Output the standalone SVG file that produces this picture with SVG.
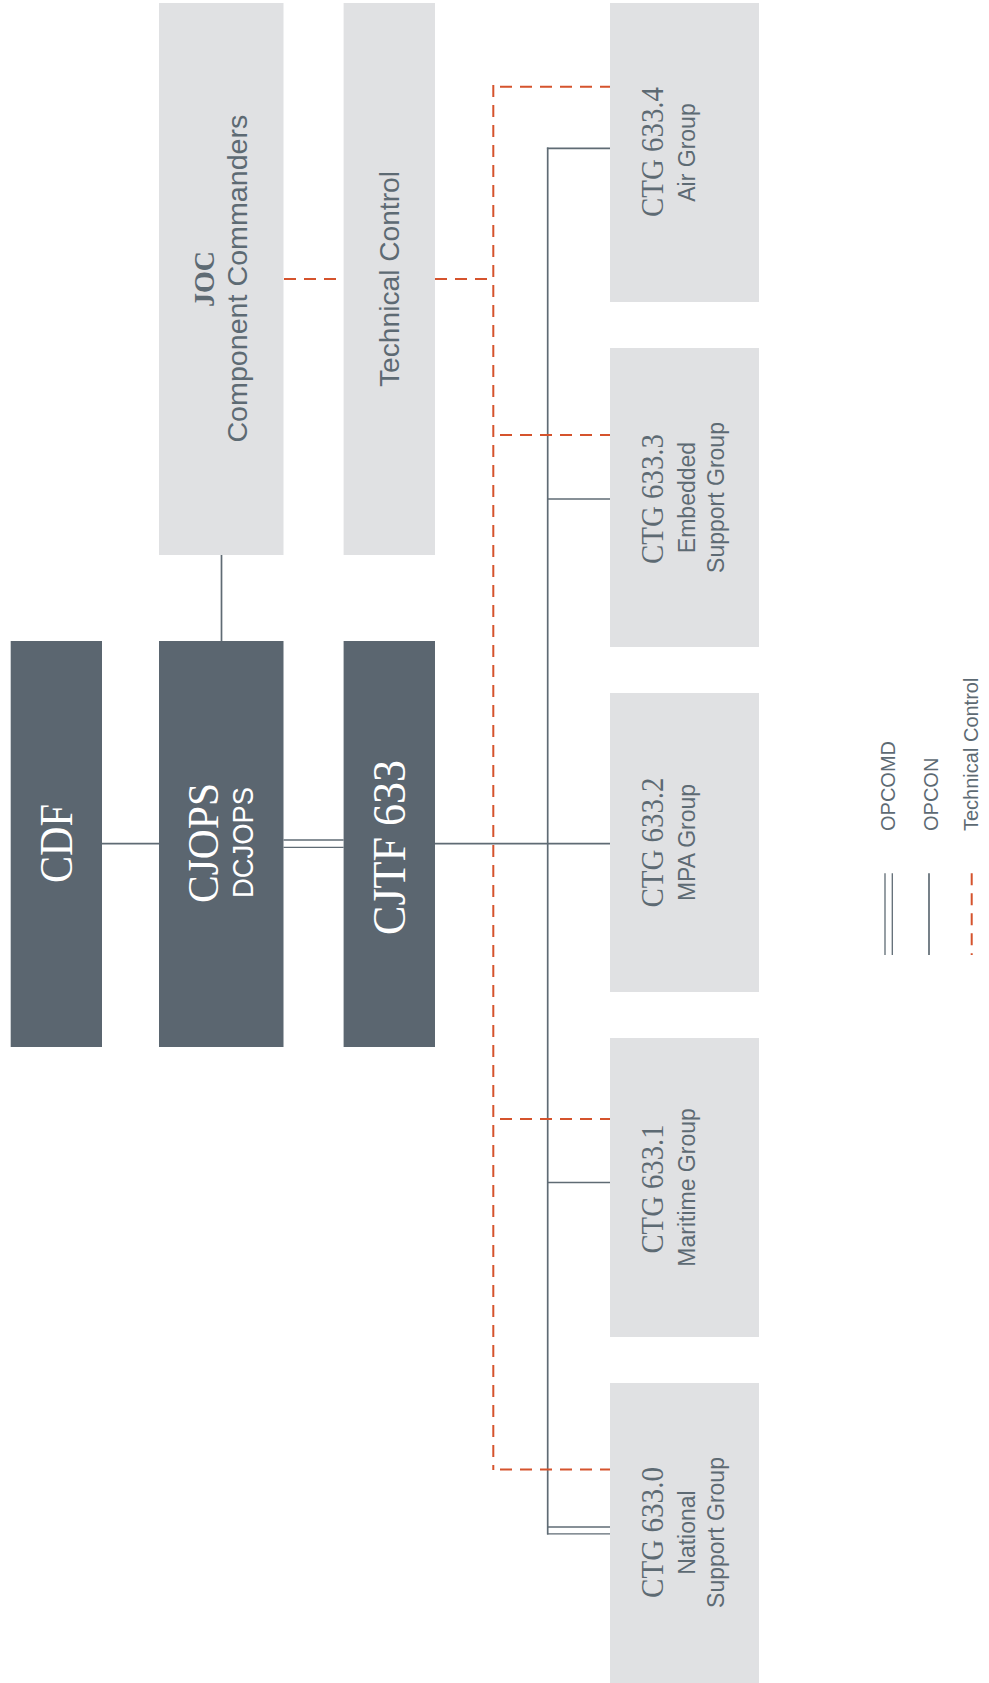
<svg xmlns="http://www.w3.org/2000/svg" width="989" height="1683" viewBox="0 0 989 1683">
<style>
.dark{fill:#5b6670}
.light{fill:#e0e1e3}
.ser{font-family:"Liberation Serif","Times New Roman",serif}
.sans{font-family:"Liberation Sans",Arial,sans-serif}
.wt{fill:#ffffff}
.gt{fill:#5d6a73}
.ln{stroke:#5f6b74;stroke-width:1.7;fill:none}
.dbl{stroke:#5f6b74;stroke-width:1.3;fill:none}
.red{stroke:#d5532d;stroke-width:2;fill:none;stroke-dasharray:12 8}
</style>
<rect width="989" height="1683" fill="#ffffff"/>
<g id="connectors">
  <line class="ln" x1="102" y1="843.7" x2="159" y2="843.7"/>
  <line class="ln" x1="221.5" y1="555" x2="221.5" y2="641"/>
  <line class="dbl" x1="283.5" y1="840" x2="343.6" y2="840"/>
  <line class="dbl" x1="283.5" y1="847.3" x2="343.6" y2="847.3"/>
  <line class="ln" x1="435" y1="843.7" x2="610" y2="843.7"/>
  <line class="ln" x1="547.7" y1="147.6" x2="547.7" y2="1534.5"/>
  <line class="ln" x1="546.9" y1="148.4" x2="610" y2="148.4"/>
  <line class="ln" x1="547.7" y1="499" x2="610" y2="499"/>
  <line class="ln" x1="547.7" y1="1182.5" x2="610" y2="1182.5"/>
  <line class="dbl" x1="547" y1="1527" x2="610" y2="1527"/>
  <line class="dbl" x1="547" y1="1533.8" x2="610" y2="1533.8"/>
  <line class="red" x1="284" y1="279" x2="344" y2="279"/>
  <line class="red" x1="435" y1="279" x2="493.3" y2="279"/>
  <line class="red" x1="493.3" y1="85" x2="493.3" y2="1470"/>
  <line class="red" x1="500" y1="86.7" x2="610" y2="86.7"/>
  <line class="red" x1="500" y1="435" x2="610" y2="435"/>
  <line class="red" x1="500" y1="1119" x2="610" y2="1119"/>
  <line class="red" x1="500" y1="1469.5" x2="610" y2="1469.5"/>
</g>
<g id="cdf">
  <rect class="dark" x="10.7" y="641" width="91.3" height="406"/>
  <text class="ser wt" font-size="46" text-anchor="middle" textLength="79" lengthAdjust="spacingAndGlyphs" transform="translate(72,843.5) rotate(-90)">CDF</text>
</g>
<g id="cjops">
  <rect class="dark" x="159" y="641" width="124.5" height="406"/>
  <text class="ser wt" font-size="44" text-anchor="middle" textLength="120" lengthAdjust="spacingAndGlyphs" transform="translate(218,843) rotate(-90)">CJOPS</text>
  <text class="sans wt" font-size="30" text-anchor="middle" textLength="111" lengthAdjust="spacingAndGlyphs" transform="translate(253,842.5) rotate(-90)">DCJOPS</text>
</g>
<g id="cjtf">
  <rect class="dark" x="343.6" y="641" width="91.4" height="406"/>
  <text class="ser wt" font-size="46" text-anchor="middle" textLength="175" lengthAdjust="spacingAndGlyphs" transform="translate(405,847.5) rotate(-90)">CJTF 633</text>
</g>
<g id="joc">
  <rect class="light" x="159" y="3" width="124.5" height="552"/>
  <text class="ser gt" font-size="30" font-weight="bold" text-anchor="middle" textLength="56" lengthAdjust="spacingAndGlyphs" transform="translate(214,279) rotate(-90)">JOC</text>
  <text class="sans gt" font-size="28" text-anchor="middle" textLength="328" lengthAdjust="spacingAndGlyphs" transform="translate(246.5,278.6) rotate(-90)">Component Commanders</text>
</g>
<g id="techcontrol">
  <rect class="light" x="343.6" y="3" width="91.4" height="552"/>
  <text class="sans gt" font-size="28" text-anchor="middle" textLength="216" lengthAdjust="spacingAndGlyphs" transform="translate(399,279) rotate(-90)">Technical Control</text>
</g>
<g id="ctg6334">
  <rect class="light" x="610" y="3" width="149" height="299"/>
  <text class="ser gt" font-size="31" text-anchor="middle" textLength="130" lengthAdjust="spacingAndGlyphs" transform="translate(663,152) rotate(-90)">CTG 633.4</text>
  <text class="sans gt" font-size="23" text-anchor="middle" transform="translate(695,152.5) rotate(-90)">Air Group</text>
</g>
<g id="ctg6333">
  <rect class="light" x="610" y="348" width="149" height="299"/>
  <text class="ser gt" font-size="31" text-anchor="middle" textLength="130" lengthAdjust="spacingAndGlyphs" transform="translate(663,499) rotate(-90)">CTG 633.3</text>
  <text class="sans gt" font-size="23" text-anchor="middle" transform="translate(695,497.5) rotate(-90)">Embedded</text>
  <text class="sans gt" font-size="23" text-anchor="middle" transform="translate(724,497.5) rotate(-90)">Support Group</text>
</g>
<g id="ctg6332">
  <rect class="light" x="610" y="693" width="149" height="299"/>
  <text class="ser gt" font-size="31" text-anchor="middle" textLength="130" lengthAdjust="spacingAndGlyphs" transform="translate(663,842.5) rotate(-90)">CTG 633.2</text>
  <text class="sans gt" font-size="23" text-anchor="middle" transform="translate(695,842.5) rotate(-90)">MPA Group</text>
</g>
<g id="ctg6331">
  <rect class="light" x="610" y="1038" width="149" height="299"/>
  <text class="ser gt" font-size="31" text-anchor="middle" textLength="129" lengthAdjust="spacingAndGlyphs" transform="translate(663,1189) rotate(-90)">CTG 633.1</text>
  <text class="sans gt" font-size="23" text-anchor="middle" transform="translate(695,1187.5) rotate(-90)">Maritime Group</text>
</g>
<g id="ctg6330">
  <rect class="light" x="610" y="1383" width="149" height="300"/>
  <text class="ser gt" font-size="31" text-anchor="middle" textLength="131" lengthAdjust="spacingAndGlyphs" transform="translate(663,1532.5) rotate(-90)">CTG 633.0</text>
  <text class="sans gt" font-size="23" text-anchor="middle" transform="translate(695,1532.5) rotate(-90)">National</text>
  <text class="sans gt" font-size="23" text-anchor="middle" transform="translate(724,1532.5) rotate(-90)">Support Group</text>
</g>
<g id="legend">
  <line class="dbl" x1="885" y1="873.3" x2="885" y2="955"/>
  <line class="dbl" x1="892.3" y1="873.3" x2="892.3" y2="955"/>
  <line class="ln" x1="929" y1="873.3" x2="929" y2="955"/>
  <line class="red" x1="971.7" y1="873.3" x2="971.7" y2="955"/>
  <text class="sans gt" font-size="20" transform="translate(895,831) rotate(-90)">OPCOMD</text>
  <text class="sans gt" font-size="20" transform="translate(937.5,831) rotate(-90)">OPCON</text>
  <text class="sans gt" font-size="20" transform="translate(978,831) rotate(-90)">Technical Control</text>
</g>
</svg>
